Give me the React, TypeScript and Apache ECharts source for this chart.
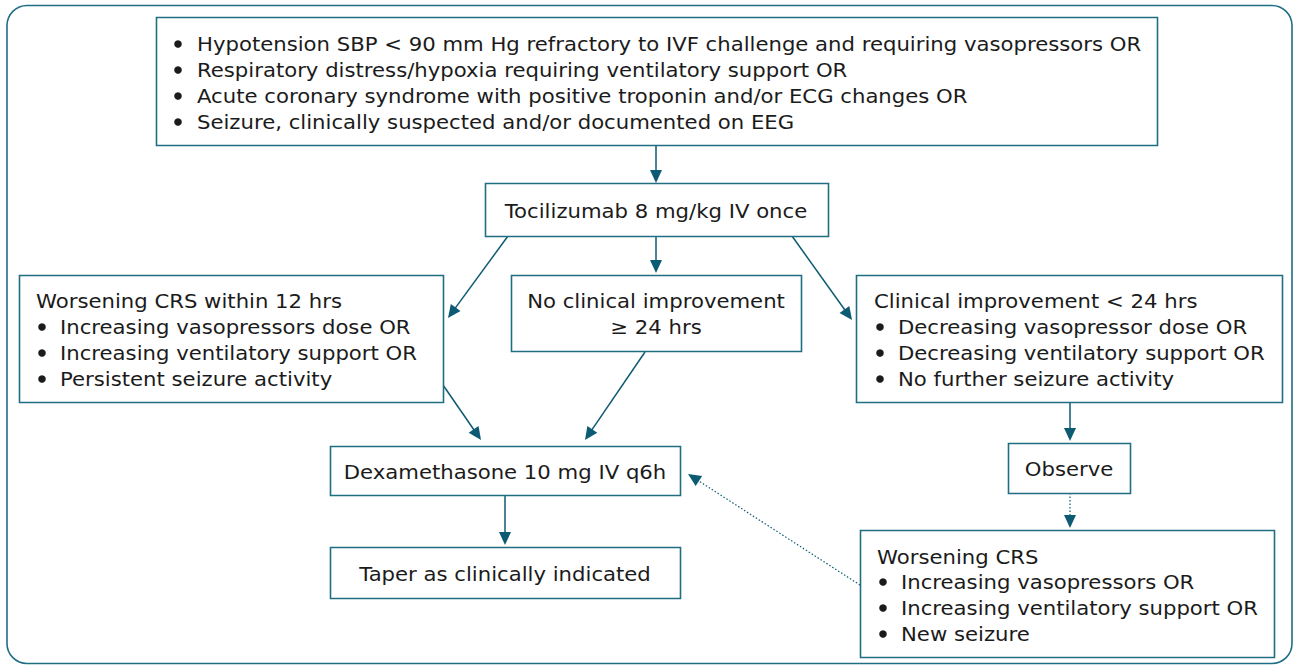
import React, { useEffect, useRef } from "react";
import * as echarts from "echarts";

// ---- Content (texts) ----
const topCriteria = [
  "Hypotension SBP < 90 mm Hg refractory to IVF challenge and requiring vasopressors OR",
  "Respiratory distress/hypoxia requiring ventilatory support OR",
  "Acute coronary syndrome with positive troponin and/or ECG changes OR",
  "Seizure, clinically suspected and/or documented on EEG",
];
const tociText = "Tocilizumab 8 mg/kg IV once";
const worseningTitle = "Worsening CRS within 12 hrs";
const worseningItems = [
  "Increasing vasopressors dose OR",
  "Increasing ventilatory support OR",
  "Persistent seizure activity",
];
const noImprovementLines = ["No clinical improvement", "\u2265 24 hrs"];
const improvementTitle = "Clinical improvement < 24 hrs";
const improvementItems = [
  "Decreasing vasopressor dose OR",
  "Decreasing ventilatory support OR",
  "No further seizure activity",
];
const dexaText = "Dexamethasone 10 mg IV q6h";
const taperText = "Taper as clinically indicated";
const observeText = "Observe";
const lateTitle = "Worsening CRS";
const lateItems = [
  "Increasing vasopressors OR",
  "Increasing ventilatory support OR",
  "New seizure",
];

// ---- Layout / style ----
const TEAL = "#1f6e84";
const ARROW = "#0d5b73";
const TEXT = "#1b1b1b";
const FONT = "DejaVu Sans";
const FS = 19.5;
const SX = 1.087;
const LH = 26;

type Box = { x: number; y: number; w: number; h: number };
const boxes: Record<string, Box> = {
  top: { x: 156, y: 17, w: 1001, h: 128 },
  toci: { x: 485, y: 183, w: 343, h: 53 },
  left: { x: 19, y: 275, w: 424, h: 127 },
  mid: { x: 511, y: 275, w: 290, h: 76 },
  right: { x: 856, y: 275, w: 426, h: 127 },
  dexa: { x: 330, y: 446, w: 350, h: 49 },
  taper: { x: 330, y: 547, w: 350, h: 51 },
  observe: { x: 1008, y: 443, w: 122, h: 50 },
  late: { x: 860, y: 530, w: 414, h: 127 },
};

type Arrow = { from: [number, number]; to: [number, number]; dotted?: boolean };
const arrows: Arrow[] = [
  { from: [656, 145], to: [656, 183] },
  { from: [508, 236], to: [448, 318] },
  { from: [656, 236], to: [656, 273] },
  { from: [792, 236], to: [852, 320] },
  { from: [443, 385], to: [481, 440] },
  { from: [645, 352], to: [585, 440] },
  { from: [505, 495], to: [505, 545] },
  { from: [1070, 402], to: [1070, 441] },
  { from: [1070, 493], to: [1070, 528], dotted: true },
  { from: [860, 585], to: [688, 474], dotted: true },
];

function rectEl(b: Box) {
  return {
    type: "rect",
    shape: { x: b.x + 0.5, y: b.y + 0.5, width: b.w, height: b.h },
    style: { fill: "#ffffff", stroke: TEAL, lineWidth: 1.6 },
    z: 2,
  };
}

function textEl(x: number, y: number, text: string, align = "left") {
  return {
    type: "text",
    x,
    y,
    scaleX: SX,
    style: {
      text,
      fill: TEXT,
      fontSize: FS,
      fontFamily: FONT,
      textAlign: align,
      textVerticalAlign: "middle",
    },
    z: 3,
  };
}

function bulletList(items: string[], bulletX: number, textX: number, y0: number) {
  const els: any[] = [];
  items.forEach((t, i) => {
    const y = y0 + i * LH;
    els.push({
      type: "circle",
      shape: { cx: bulletX, cy: y, r: 3.8 },
      style: { fill: TEXT },
      z: 3,
    });
    els.push(textEl(textX, y, t));
  });
  return els;
}

function arrowEls(a: Arrow) {
  const [x1, y1] = a.from;
  const [x2, y2] = a.to;
  const dx = x2 - x1;
  const dy = y2 - y1;
  const len = Math.sqrt(dx * dx + dy * dy);
  const ux = dx / len;
  const uy = dy / len;
  const L = 13;
  const W = 6;
  const bx = x2 - ux * L;
  const by = y2 - uy * L;
  return [
    {
      type: "line",
      shape: { x1, y1, x2: bx + ux * 2, y2: by + uy * 2 },
      style: a.dotted
        ? { stroke: ARROW, lineWidth: 1.2, lineDash: [1.5, 2] }
        : { stroke: ARROW, lineWidth: 1.5 },
      z: 1,
    },
    {
      type: "polygon",
      shape: {
        points: [
          [x2, y2],
          [bx - uy * W, by + ux * W],
          [bx + uy * W, by - ux * W],
        ],
      },
      style: { fill: ARROW },
      z: 1,
    },
  ];
}

export default function App() {
  const ref = useRef<HTMLDivElement>(null);
  useEffect(() => {
    document.body.style.margin = "0";
    if (!ref.current) return;
    const chart = echarts.init(ref.current, null, { renderer: "svg" });
    const els: any[] = [];
    // outer frame
    els.push({
      type: "rect",
      shape: { x: 7, y: 5.5, width: 1285, height: 658, r: 20 },
      style: { fill: "#ffffff", stroke: TEAL, lineWidth: 1.6 },
      z: 0,
    });
    Object.values(boxes).forEach((b) => els.push(rectEl(b)));
    arrows.forEach((a) => els.push(...arrowEls(a)));

    els.push(...bulletList(topCriteria, 178, 197, 44));
    els.push(textEl(656, 211, tociText, "center"));
    els.push(textEl(36, 301, worseningTitle));
    els.push(...bulletList(worseningItems, 42, 60, 327));
    noImprovementLines.forEach((t, i) => els.push(textEl(656, 301 + i * LH, t, "center")));
    els.push(textEl(874, 301, improvementTitle));
    els.push(...bulletList(improvementItems, 880, 898, 327));
    els.push(textEl(505, 472, dexaText, "center"));
    els.push(textEl(505, 574, taperText, "center"));
    els.push(textEl(1069, 469, observeText, "center"));
    els.push(textEl(877, 557, lateTitle));
    els.push(...bulletList(lateItems, 883, 901, 582));

    chart.setOption({
      animation: false,
      graphic: { elements: els },
    });
    return () => chart.dispose();
  }, []);
  return (
    <div
      ref={ref}
      style={{ position: "fixed", left: 0, top: 0, width: 1294, height: 666, background: "#fff" }}
    />
  );
}
